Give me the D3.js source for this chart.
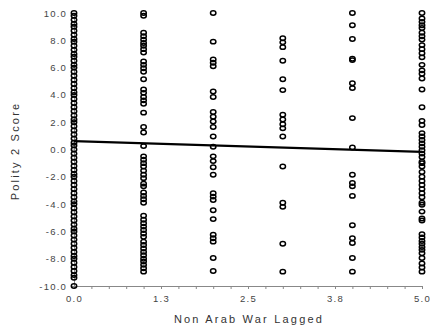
<!DOCTYPE html>
<html lang="en">
<head>
    <meta charset="UTF-8">
    <title>Polity 2 Score vs Non Arab War Lagged</title>
    <style>
        body, html {
            margin: 0;
            padding: 0;
            background: #fff;
            font-family: "Liberation Sans", Arial, sans-serif;
        }
        .tick text {
            fill: #444;
            font-size: 9.5px;
            letter-spacing: 1.2px;
        }
        .axis-title {
            fill: #333;
            font-size: 11px;
            letter-spacing: 2.2px;
        }
    </style>
    <script src="https://d3js.org/d3.v7.min.js"></script>
</head>
<body>
    <div id="chart"></div>
    <script>
        // x categories (Non Arab War Lagged)
        const warLevels = [0, 1, 2, 3, 4, 5];

        // Polity 2 scores
        const scoresAt0 = [10, 9.8, 9.5, 9.2, 9.0, 8.7, 8.4, 8.1, 7.9, 7.6, 7.3, 7.0, 6.8, 6.5, 6.2, 6.0,
            5.7, 5.4, 5.1, 4.8, 4.5, 4.2, 4.0, 3.7, 3.4, 3.1, 2.8, 2.5, 2.2, 2.0, 1.7, 1.4, 1.1, 0.8,
            0.5, 0.3, 0, -0.3, -0.6, -0.9, -1.2, -1.5, -1.8, -2.0, -2.3, -2.6, -2.9, -3.2, -3.5, -3.8,
            -4.0, -4.3, -4.6, -4.9, -5.2, -5.5, -5.8, -6.0, -6.3, -6.6, -6.9, -7.2, -7.5, -7.8, -8.0,
            -8.3, -8.6, -8.9, -9.2, -9.4, -10];
        const scoresAt1 = [10, 9.8, 8.55, 8.3, 8.05, 7.8, 7.6, 7.35, 7.1, 6.45, 6.2, 5.95, 5.7, 5.15,
            4.4, 4.15, 3.85, 3.6, 3.35, 2.7, 1.65, 1.25, 0.25, -0.5, -0.75, -1.0, -1.25, -1.55, -1.85,
            -2.1, -2.5, -2.7, -3.15, -3.4, -3.65, -3.9, -4.85, -5.15, -5.4, -5.65, -5.9, -6.15, -6.4,
            -6.75, -7.0, -7.25, -7.5, -7.75, -8.0, -8.2, -8.45, -8.7, -8.95];
        const scoresAt2 = [10, 7.9, 6.6, 6.35, 6.1, 4.25, 3.85, 2.75, 2.4, 2.05, 1.65, 0.95, 0.2,
            -0.5, -0.85, -1.3, -1.85, -3.2, -3.45, -3.7, -4.45, -5.1, -6.25, -6.5, -6.75, -7.95, -8.9];
        const scoresAt3 = [8.15, 7.85, 7.5, 6.5, 5.15, 4.35, 2.55, 2.2, 1.85, 1.55, 0.95, -1.25,
            -3.9, -4.2, -6.9, -8.95];
        const scoresAt4 = [10, 9.1, 8.1, 6.65, 6.55, 4.85, 4.5, 2.3, 0.15, -1.85, -2.45, -2.7,
            -3.4, -5.55, -6.5, -6.85, -7.95, -8.95];
        const scoresAt5 = [10, 9.6, 9.35, 9.1, 8.9, 8.55, 8.3, 8.05, 7.65, 7.35, 7.05, 6.75, 6.2,
            5.8, 5.55, 5.2, 4.4, 3.1, 2.1, 1.8, 1.2, 0.95, 0.7, 0.45, 0.2, -0.05, -0.3, -0.55, -0.9,
            -1.0, -1.25, -1.65, -2.0, -2.3, -2.6, -2.9, -3.2, -3.5, -3.9, -4.05, -4.55, -5.05, -5.2,
            -6.2, -6.45, -6.7, -6.9, -7.15, -7.35, -7.6, -7.95, -8.35, -8.65, -8.95];
        const scoreColumns = [scoresAt0, scoresAt1, scoresAt2, scoresAt3, scoresAt4, scoresAt5];

        // fitted regression line end values
        const fitX = [0, 5];
        const fitY = [0.62, -0.17];

        // tick labels
        const xTicks = [0, 1.25, 2.5, 3.75, 5];
        const xTickLabels = ["0.0", "1.3", "2.5", "3.8", "5.0"];
        const yTicks = [-10, -8, -6, -4, -2, 0, 2, 4, 6, 8, 10];
        const yTickLabels = ["-10.0", "-8.0", "-6.0", "-4.0", "-2.0", "0.0", "2.0", "4.0", "6.0", "8.0", "10.0"];

        const width = 435, height = 329;

        const svg = d3.select("#chart").append("svg")
            .attr("width", width)
            .attr("height", height);

        const x = d3.scaleLinear().domain([0, 5]).range([74, 422]);
        const y = d3.scaleLinear().domain([-10, 10]).range([286, 13]);

        // x axis: labelled ticks and minor ticks every 0.25
        const xAxis = svg.append("g")
            .attr("transform", `translate(0, ${y(-10)})`)
            .call(d3.axisBottom(x)
                .tickValues(d3.range(0, 5.001, 0.25))
                .tickSize(3)
                .tickFormat(d => {
                    const k = xTicks.indexOf(d);
                    return k >= 0 ? xTickLabels[k] : "";
                }));
        xAxis.selectAll("path, line").attr("stroke", "#888");
        xAxis.selectAll("text").attr("dy", "1.05em");

        const yAxis = svg.append("g")
            .attr("transform", `translate(${x(0)}, 0)`)
            .call(d3.axisLeft(y)
                .tickValues(yTicks)
                .tickSize(3)
                .tickPadding(4)
                .tickFormat((d, i) => yTickLabels[i]));
        yAxis.selectAll("path, line").attr("stroke", "#888");

        // axis titles
        svg.append("text")
            .attr("class", "axis-title")
            .attr("x", 249)
            .attr("y", 323)
            .attr("text-anchor", "middle")
            .text("Non Arab War Lagged");

        svg.append("text")
            .attr("class", "axis-title")
            .attr("transform", "translate(19, 151) rotate(-90)")
            .attr("text-anchor", "middle")
            .text("Polity 2 Score");

        // points
        const points = [];
        scoreColumns.forEach((col, i) => {
            col.forEach(v => points.push({ war: warLevels[i], score: v }));
        });

        svg.append("g")
            .selectAll("ellipse")
            .data(points)
            .enter().append("ellipse")
            .attr("cx", d => x(d.war))
            .attr("cy", d => y(d.score))
            .attr("rx", 2.7)
            .attr("ry", 2.2)
            .attr("fill", "none")
            .attr("stroke", "#000")
            .attr("stroke-width", 1.5);

        // regression line
        const line = d3.line()
            .x(d => x(d[0]))
            .y(d => y(d[1]));

        svg.append("path")
            .datum(fitX.map((v, i) => [v, fitY[i]]))
            .attr("d", line)
            .attr("fill", "none")
            .attr("stroke", "#000")
            .attr("stroke-width", 2.2);
    </script>
</body>
</html>
